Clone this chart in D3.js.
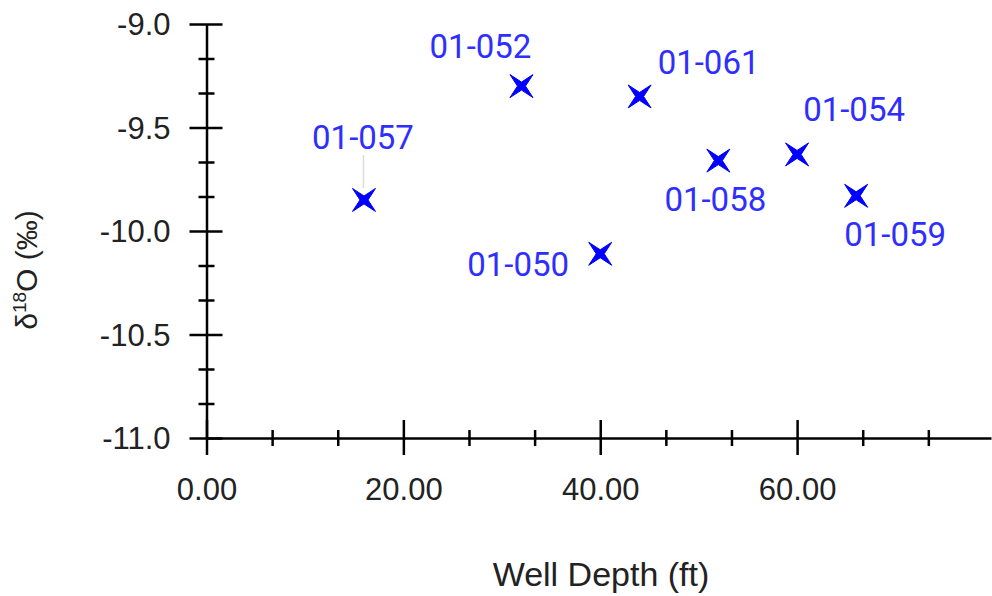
<!DOCTYPE html>
<html>
<head>
<meta charset="utf-8">
<script src="https://cdn.jsdelivr.net/npm/d3@7"></script>
<style>
  body { margin: 0; background: #fff; }
  svg { display: block; }
</style>
</head>
<body>
<svg id="chart" width="992" height="596"></svg>
<script>
(function(){
    'use strict';

    // Sample data
    const wellIds = ['01-057', '01-052', '01-061', '01-050', '01-058', '01-054', '01-059'];
    const wellDepth = [16, 32, 44, 40, 52, 60, 66];
    const delta18O = [-9.85, -9.30, -9.35, -10.11, -9.66, -9.63, -9.83];

    const xMajorTicks = [0, 20, 40, 60];
    const yMajorTicks = [-9.0, -9.5, -10.0, -10.5, -11.0];

    // label placement relative to its marker (layout only)
    const labelOffsets = [
        {dx: -1, dy: -51, leader: true},
        {dx: -41, dy: -28},
        {dx: 69, dy: -22},
        {dx: -82, dy: 22},
        {dx: -3, dy: 50},
        {dx: 57, dy: -33},
        {dx: 39, dy: 50}
    ];

    const width = 992;
    const height = 596;
    const margin = {top: 24, right: 1, bottom: 158, left: 206.5};

    const svg = d3.select('#chart');

    const x = d3.scaleLinear()
        .domain([0, 79.7])
        .range([margin.left, width - margin.right]);

    const y = d3.scaleLinear()
        .domain([-9, -11])
        .range([margin.top, height - margin.bottom]);

    const thirds = (ticks) => {
        const out = [];
        for (let i = 0; i < ticks.length - 1; i++) {
            const step = (ticks[i + 1] - ticks[i]) / 3;
            out.push(ticks[i] + step, ticks[i] + 2 * step);
        }
        return out;
    };
    const xMinor = thirds(xMajorTicks.concat([80]));
    const yMinor = thirds(yMajorTicks);

    // plain hyphen for negatives, like the original
    const fmt = (spec) => (d) => d3.format(spec)(d).replace('\u2212', '-');

    const tickFont = '"Liberation Sans", Arial, sans-serif';

    // y axis
    const yAxisG = svg.append('g')
        .attr('transform', `translate(${margin.left}, 0)`);
    yAxisG.append('g')
        .call(d3.axisLeft(y).tickValues(yMinor).tickFormat('').tickSizeOuter(0))
        .call(g => g.select('.domain').remove())
        .call(g => g.selectAll('.tick line').attr('x1', -8).attr('x2', 8)
            .attr('stroke', '#000').attr('stroke-width', 2.5));
    yAxisG.append('g')
        .call(d3.axisLeft(y).tickValues(yMajorTicks).tickFormat(fmt('.1f')).tickSizeOuter(0))
        .call(g => g.select('.domain').attr('stroke', '#000').attr('stroke-width', 2.5))
        .call(g => g.selectAll('.tick line').attr('x1', -17).attr('x2', 16)
            .attr('stroke', '#000').attr('stroke-width', 2.5))
        .call(g => g.selectAll('.tick text')
            .attr('x', -36).attr('dy', '0.35em')
            .attr('fill', '#222')
            .style('font-family', tickFont).style('font-size', '31px'));

    // x axis
    const xAxisG = svg.append('g')
        .attr('transform', `translate(0, ${y(-11)})`);
    xAxisG.append('g')
        .call(d3.axisBottom(x).tickValues(xMinor).tickFormat('').tickSizeOuter(0))
        .call(g => g.select('.domain').remove())
        .call(g => g.selectAll('.tick line').attr('y1', -8).attr('y2', 8)
            .attr('stroke', '#000').attr('stroke-width', 2.5));
    xAxisG.append('g')
        .call(d3.axisBottom(x).tickValues(xMajorTicks).tickFormat(fmt('.2f')).tickSizeOuter(0))
        .call(g => g.select('.domain').attr('stroke', '#000').attr('stroke-width', 2.5))
        .call(g => g.selectAll('.tick line').attr('y1', -18).attr('y2', 17)
            .attr('stroke', '#000').attr('stroke-width', 2.5))
        .call(g => g.selectAll('.tick text')
            .attr('y', 62).attr('dy', 0)
            .attr('fill', '#222')
            .style('font-family', tickFont).style('font-size', '31px'));

    // axis titles
    svg.append('text')
        .attr('x', 601)
        .attr('y', 586)
        .attr('text-anchor', 'middle')
        .attr('fill', '#222')
        .style('font-family', tickFont)
        .style('font-size', '34px')
        .text('Well Depth (ft)');

    const yTitle = svg.append('text')
        .attr('transform', 'translate(37, 270) rotate(-90)')
        .attr('text-anchor', 'middle')
        .attr('fill', '#222')
        .style('font-family', tickFont)
        .style('font-size', '30px');
    yTitle.append('tspan').text('δ');
    yTitle.append('tspan').attr('dy', -11).style('font-size', '19px').text('18');
    yTitle.append('tspan').attr('dy', 11).text('O (‰)');

    // points
    const data = wellIds.map((id, i) => ({id, depth: wellDepth[i], d18O: delta18O[i], off: labelOffsets[i]}));

    // X shaped star marker
    const r = 11.5, inner = 4;
    const star = 'M' + [
        [-r, -r], [0, -inner], [r, -r], [inner, 0],
        [r, r], [0, inner], [-r, r], [-inner, 0]
    ].map(p => p.join(',')).join('L') + 'Z';

    // leader lines
    svg.append('g')
        .selectAll('line')
        .data(data.filter(d => d.off.leader))
        .enter()
        .append('line')
            .attr('x1', d => x(d.depth) - 0.5)
            .attr('x2', d => x(d.depth) - 0.5)
            .attr('y1', d => y(d.d18O) + d.off.dy + 6)
            .attr('y2', d => y(d.d18O) - 12)
            .attr('stroke', '#dcdcdc')
            .attr('stroke-width', 1.5);

    svg.append('g')
        .attr('fill', '#0000ff')
        .attr('stroke', '#0000ff')
        .attr('stroke-width', 1)
        .attr('stroke-linejoin', 'miter')
        .selectAll('path')
        .data(data)
        .enter()
        .append('path')
            .attr('d', star)
            .attr('transform', d => `translate(${x(d.depth)}, ${y(d.d18O)})`);

    svg.append('g')
        .attr('fill', '#2e2eff')
        .attr('text-anchor', 'middle')
        .style('font-family', 'Roboto, sans-serif')
        .style('font-size', '33px')
        .selectAll('text')
        .data(data)
        .enter()
        .append('text')
            .attr('x', d => x(d.depth) + d.off.dx)
            .attr('y', d => y(d.d18O) + d.off.dy)
            .text(d => d.id);
})();
</script>
</body>
</html>
